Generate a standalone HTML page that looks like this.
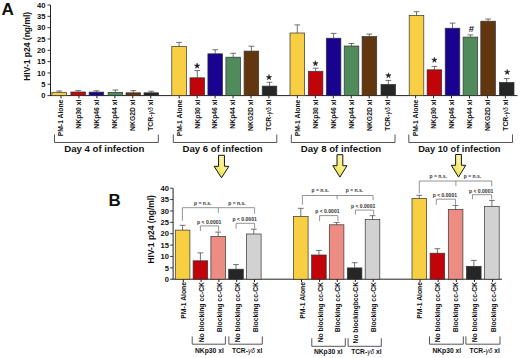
<!DOCTYPE html>
<html><head><meta charset="utf-8"><style>
html,body{margin:0;padding:0;background:#fff;}
svg{display:block;}
</style></head><body>
<svg width="520" height="358" viewBox="0 0 520 358">
<rect width="520" height="358" fill="#fff"/>
<text x="1.60" y="15.00" text-anchor="start" style="font-family:'Liberation Sans',sans-serif;font-weight:bold;font-size:17.2px" fill="#111">A</text>
<line x1="50.5" y1="5" x2="50.5" y2="95.6" stroke="#222" stroke-width="1"/>
<line x1="47.5" y1="95.60" x2="50.5" y2="95.60" stroke="#222" stroke-width="0.9"/>
<text x="45.50" y="98.30" text-anchor="end" style="font-family:'Liberation Sans',sans-serif;font-weight:bold;font-size:7.6px" fill="#111">0</text>
<line x1="47.5" y1="84.27" x2="50.5" y2="84.27" stroke="#222" stroke-width="0.9"/>
<text x="45.50" y="86.97" text-anchor="end" style="font-family:'Liberation Sans',sans-serif;font-weight:bold;font-size:7.6px" fill="#111">5</text>
<line x1="47.5" y1="72.95" x2="50.5" y2="72.95" stroke="#222" stroke-width="0.9"/>
<text x="45.50" y="75.65" text-anchor="end" style="font-family:'Liberation Sans',sans-serif;font-weight:bold;font-size:7.6px" fill="#111">10</text>
<line x1="47.5" y1="61.62" x2="50.5" y2="61.62" stroke="#222" stroke-width="0.9"/>
<text x="45.50" y="64.32" text-anchor="end" style="font-family:'Liberation Sans',sans-serif;font-weight:bold;font-size:7.6px" fill="#111">15</text>
<line x1="47.5" y1="50.30" x2="50.5" y2="50.30" stroke="#222" stroke-width="0.9"/>
<text x="45.50" y="53.00" text-anchor="end" style="font-family:'Liberation Sans',sans-serif;font-weight:bold;font-size:7.6px" fill="#111">20</text>
<line x1="47.5" y1="38.97" x2="50.5" y2="38.97" stroke="#222" stroke-width="0.9"/>
<text x="45.50" y="41.67" text-anchor="end" style="font-family:'Liberation Sans',sans-serif;font-weight:bold;font-size:7.6px" fill="#111">25</text>
<line x1="47.5" y1="27.65" x2="50.5" y2="27.65" stroke="#222" stroke-width="0.9"/>
<text x="45.50" y="30.35" text-anchor="end" style="font-family:'Liberation Sans',sans-serif;font-weight:bold;font-size:7.6px" fill="#111">30</text>
<line x1="47.5" y1="16.32" x2="50.5" y2="16.32" stroke="#222" stroke-width="0.9"/>
<text x="45.50" y="19.02" text-anchor="end" style="font-family:'Liberation Sans',sans-serif;font-weight:bold;font-size:7.6px" fill="#111">35</text>
<line x1="47.5" y1="5.00" x2="50.5" y2="5.00" stroke="#222" stroke-width="0.9"/>
<text x="45.50" y="7.70" text-anchor="end" style="font-family:'Liberation Sans',sans-serif;font-weight:bold;font-size:7.6px" fill="#111">40</text>
<text x="30.5" y="46.3" transform="rotate(-90 30.5 46.3)" text-anchor="middle" style="font-family:'Liberation Sans',sans-serif;font-weight:bold;font-size:8.5px" fill="#111" textLength="69" lengthAdjust="spacingAndGlyphs">HIV-1 p24 (ng/ml)</text>
<line x1="50.0" y1="95.6" x2="517.5" y2="95.6" stroke="#222" stroke-width="1"/>
<rect x="51.90" y="92.30" width="14.6" height="3.30" fill="#f8cf42" stroke="#333" stroke-width="0.7"/>
<line x1="59.20" y1="92.30" x2="59.20" y2="91.00" stroke="#444" stroke-width="0.75"/>
<line x1="56.30" y1="91.00" x2="62.10" y2="91.00" stroke="#444" stroke-width="0.75"/>
<line x1="61.00" y1="95.6" x2="61.00" y2="98.39999999999999" stroke="#222" stroke-width="1"/>
<text x="63.40" y="99.60" transform="rotate(-90 63.40 99.60)" text-anchor="end" style="font-family:'Liberation Sans',sans-serif;font-weight:bold;font-size:7.4px" fill="#111" textLength="36.71" lengthAdjust="spacingAndGlyphs">PM-1 Alone</text>
<rect x="70.90" y="92.00" width="14.6" height="3.60" fill="#c0040a" stroke="#333" stroke-width="0.7"/>
<line x1="78.20" y1="92.00" x2="78.20" y2="90.60" stroke="#444" stroke-width="0.75"/>
<line x1="75.30" y1="90.60" x2="81.10" y2="90.60" stroke="#444" stroke-width="0.75"/>
<line x1="78.95" y1="95.6" x2="78.95" y2="98.39999999999999" stroke="#222" stroke-width="1"/>
<text x="81.35" y="99.60" transform="rotate(-90 81.35 99.60)" text-anchor="end" style="font-family:'Liberation Sans',sans-serif;font-weight:bold;font-size:7.4px" fill="#111" textLength="29.06" lengthAdjust="spacingAndGlyphs">NKp30 xl</text>
<rect x="89.10" y="92.10" width="14.6" height="3.50" fill="#19028f" stroke="#333" stroke-width="0.7"/>
<line x1="96.40" y1="92.10" x2="96.40" y2="90.80" stroke="#444" stroke-width="0.75"/>
<line x1="93.50" y1="90.80" x2="99.30" y2="90.80" stroke="#444" stroke-width="0.75"/>
<line x1="96.90" y1="95.6" x2="96.90" y2="98.39999999999999" stroke="#222" stroke-width="1"/>
<text x="99.30" y="99.60" transform="rotate(-90 99.30 99.60)" text-anchor="end" style="font-family:'Liberation Sans',sans-serif;font-weight:bold;font-size:7.4px" fill="#111" textLength="29.06" lengthAdjust="spacingAndGlyphs">NKp46 xl</text>
<rect x="108.10" y="92.40" width="14.6" height="3.20" fill="#508b5b" stroke="#333" stroke-width="0.7"/>
<line x1="115.40" y1="92.40" x2="115.40" y2="90.00" stroke="#444" stroke-width="0.75"/>
<line x1="112.50" y1="90.00" x2="118.30" y2="90.00" stroke="#444" stroke-width="0.75"/>
<line x1="114.85" y1="95.6" x2="114.85" y2="98.39999999999999" stroke="#222" stroke-width="1"/>
<text x="117.25" y="99.60" transform="rotate(-90 117.25 99.60)" text-anchor="end" style="font-family:'Liberation Sans',sans-serif;font-weight:bold;font-size:7.4px" fill="#111" textLength="29.06" lengthAdjust="spacingAndGlyphs">NKp44 xl</text>
<rect x="126.00" y="92.80" width="14.6" height="2.80" fill="#62360f" stroke="#333" stroke-width="0.7"/>
<line x1="133.30" y1="92.80" x2="133.30" y2="90.60" stroke="#444" stroke-width="0.75"/>
<line x1="130.40" y1="90.60" x2="136.20" y2="90.60" stroke="#444" stroke-width="0.75"/>
<line x1="132.80" y1="95.6" x2="132.80" y2="98.39999999999999" stroke="#222" stroke-width="1"/>
<text x="135.20" y="99.60" transform="rotate(-90 135.20 99.60)" text-anchor="end" style="font-family:'Liberation Sans',sans-serif;font-weight:bold;font-size:7.4px" fill="#111" textLength="31.32" lengthAdjust="spacingAndGlyphs">NKG2D xl</text>
<rect x="144.00" y="92.80" width="14.6" height="2.80" fill="#262626" stroke="#333" stroke-width="0.7"/>
<line x1="151.30" y1="92.80" x2="151.30" y2="91.25" stroke="#444" stroke-width="0.75"/>
<line x1="148.40" y1="91.25" x2="154.20" y2="91.25" stroke="#444" stroke-width="0.75"/>
<line x1="150.75" y1="95.6" x2="150.75" y2="98.39999999999999" stroke="#222" stroke-width="1"/>
<text x="153.15" y="99.60" transform="rotate(-90 153.15 99.60)" text-anchor="end" style="font-family:'Liberation Sans',sans-serif;font-weight:bold;font-size:7.4px" fill="#111" textLength="31.2" lengthAdjust="spacingAndGlyphs">TCR-<tspan style="font-weight:normal;font-style:italic">γδ</tspan> xl</text>
<rect x="171.80" y="46.50" width="14.6" height="49.10" fill="#f8cf42" stroke="#333" stroke-width="0.7"/>
<line x1="179.10" y1="46.50" x2="179.10" y2="42.40" stroke="#444" stroke-width="0.75"/>
<line x1="176.20" y1="42.40" x2="182.00" y2="42.40" stroke="#444" stroke-width="0.75"/>
<line x1="179.20" y1="95.6" x2="179.20" y2="98.39999999999999" stroke="#222" stroke-width="1"/>
<text x="181.60" y="99.60" transform="rotate(-90 181.60 99.60)" text-anchor="end" style="font-family:'Liberation Sans',sans-serif;font-weight:bold;font-size:7.4px" fill="#111" textLength="36.71" lengthAdjust="spacingAndGlyphs">PM-1 Alone</text>
<rect x="190.00" y="77.80" width="14.6" height="17.80" fill="#c0040a" stroke="#333" stroke-width="0.7"/>
<line x1="197.30" y1="77.80" x2="197.30" y2="70.60" stroke="#444" stroke-width="0.75"/>
<line x1="194.40" y1="70.60" x2="200.20" y2="70.60" stroke="#444" stroke-width="0.75"/>
<line x1="197.15" y1="95.6" x2="197.15" y2="98.39999999999999" stroke="#222" stroke-width="1"/>
<text x="199.55" y="99.60" transform="rotate(-90 199.55 99.60)" text-anchor="end" style="font-family:'Liberation Sans',sans-serif;font-weight:bold;font-size:7.4px" fill="#111" textLength="29.06" lengthAdjust="spacingAndGlyphs">NKp30 xl</text>
<rect x="207.90" y="53.80" width="14.6" height="41.80" fill="#19028f" stroke="#333" stroke-width="0.7"/>
<line x1="215.20" y1="53.80" x2="215.20" y2="49.75" stroke="#444" stroke-width="0.75"/>
<line x1="212.30" y1="49.75" x2="218.10" y2="49.75" stroke="#444" stroke-width="0.75"/>
<line x1="215.10" y1="95.6" x2="215.10" y2="98.39999999999999" stroke="#222" stroke-width="1"/>
<text x="217.50" y="99.60" transform="rotate(-90 217.50 99.60)" text-anchor="end" style="font-family:'Liberation Sans',sans-serif;font-weight:bold;font-size:7.4px" fill="#111" textLength="29.06" lengthAdjust="spacingAndGlyphs">NKp46 xl</text>
<rect x="225.90" y="57.20" width="14.6" height="38.40" fill="#508b5b" stroke="#333" stroke-width="0.7"/>
<line x1="233.20" y1="57.20" x2="233.20" y2="53.30" stroke="#444" stroke-width="0.75"/>
<line x1="230.30" y1="53.30" x2="236.10" y2="53.30" stroke="#444" stroke-width="0.75"/>
<line x1="233.05" y1="95.6" x2="233.05" y2="98.39999999999999" stroke="#222" stroke-width="1"/>
<text x="235.45" y="99.60" transform="rotate(-90 235.45 99.60)" text-anchor="end" style="font-family:'Liberation Sans',sans-serif;font-weight:bold;font-size:7.4px" fill="#111" textLength="29.06" lengthAdjust="spacingAndGlyphs">NKp44 xl</text>
<rect x="244.10" y="51.10" width="14.6" height="44.50" fill="#62360f" stroke="#333" stroke-width="0.7"/>
<line x1="251.40" y1="51.10" x2="251.40" y2="46.20" stroke="#444" stroke-width="0.75"/>
<line x1="248.50" y1="46.20" x2="254.30" y2="46.20" stroke="#444" stroke-width="0.75"/>
<line x1="251.00" y1="95.6" x2="251.00" y2="98.39999999999999" stroke="#222" stroke-width="1"/>
<text x="253.40" y="99.60" transform="rotate(-90 253.40 99.60)" text-anchor="end" style="font-family:'Liberation Sans',sans-serif;font-weight:bold;font-size:7.4px" fill="#111" textLength="31.32" lengthAdjust="spacingAndGlyphs">NKG2D xl</text>
<rect x="262.20" y="86.10" width="14.6" height="9.50" fill="#262626" stroke="#333" stroke-width="0.7"/>
<line x1="269.50" y1="86.10" x2="269.50" y2="82.25" stroke="#444" stroke-width="0.75"/>
<line x1="266.60" y1="82.25" x2="272.40" y2="82.25" stroke="#444" stroke-width="0.75"/>
<line x1="268.95" y1="95.6" x2="268.95" y2="98.39999999999999" stroke="#222" stroke-width="1"/>
<text x="271.35" y="99.60" transform="rotate(-90 271.35 99.60)" text-anchor="end" style="font-family:'Liberation Sans',sans-serif;font-weight:bold;font-size:7.4px" fill="#111" textLength="31.2" lengthAdjust="spacingAndGlyphs">TCR-<tspan style="font-weight:normal;font-style:italic">γδ</tspan> xl</text>
<rect x="290.00" y="33.00" width="14.6" height="62.60" fill="#f8cf42" stroke="#333" stroke-width="0.7"/>
<line x1="297.30" y1="33.00" x2="297.30" y2="24.90" stroke="#444" stroke-width="0.75"/>
<line x1="294.40" y1="24.90" x2="300.20" y2="24.90" stroke="#444" stroke-width="0.75"/>
<line x1="297.40" y1="95.6" x2="297.40" y2="98.39999999999999" stroke="#222" stroke-width="1"/>
<text x="299.80" y="99.60" transform="rotate(-90 299.80 99.60)" text-anchor="end" style="font-family:'Liberation Sans',sans-serif;font-weight:bold;font-size:7.4px" fill="#111" textLength="36.71" lengthAdjust="spacingAndGlyphs">PM-1 Alone</text>
<rect x="308.30" y="71.30" width="14.6" height="24.30" fill="#c0040a" stroke="#333" stroke-width="0.7"/>
<line x1="315.60" y1="71.30" x2="315.60" y2="68.20" stroke="#444" stroke-width="0.75"/>
<line x1="312.70" y1="68.20" x2="318.50" y2="68.20" stroke="#444" stroke-width="0.75"/>
<line x1="315.35" y1="95.6" x2="315.35" y2="98.39999999999999" stroke="#222" stroke-width="1"/>
<text x="317.75" y="99.60" transform="rotate(-90 317.75 99.60)" text-anchor="end" style="font-family:'Liberation Sans',sans-serif;font-weight:bold;font-size:7.4px" fill="#111" textLength="29.06" lengthAdjust="spacingAndGlyphs">NKp30 xl</text>
<rect x="326.30" y="38.20" width="14.6" height="57.40" fill="#19028f" stroke="#333" stroke-width="0.7"/>
<line x1="333.60" y1="38.20" x2="333.60" y2="33.40" stroke="#444" stroke-width="0.75"/>
<line x1="330.70" y1="33.40" x2="336.50" y2="33.40" stroke="#444" stroke-width="0.75"/>
<line x1="333.30" y1="95.6" x2="333.30" y2="98.39999999999999" stroke="#222" stroke-width="1"/>
<text x="335.70" y="99.60" transform="rotate(-90 335.70 99.60)" text-anchor="end" style="font-family:'Liberation Sans',sans-serif;font-weight:bold;font-size:7.4px" fill="#111" textLength="29.06" lengthAdjust="spacingAndGlyphs">NKp46 xl</text>
<rect x="344.20" y="46.00" width="14.6" height="49.60" fill="#508b5b" stroke="#333" stroke-width="0.7"/>
<line x1="351.50" y1="46.00" x2="351.50" y2="43.50" stroke="#444" stroke-width="0.75"/>
<line x1="348.60" y1="43.50" x2="354.40" y2="43.50" stroke="#444" stroke-width="0.75"/>
<line x1="351.25" y1="95.6" x2="351.25" y2="98.39999999999999" stroke="#222" stroke-width="1"/>
<text x="353.65" y="99.60" transform="rotate(-90 353.65 99.60)" text-anchor="end" style="font-family:'Liberation Sans',sans-serif;font-weight:bold;font-size:7.4px" fill="#111" textLength="29.06" lengthAdjust="spacingAndGlyphs">NKp44 xl</text>
<rect x="362.10" y="36.60" width="14.6" height="59.00" fill="#62360f" stroke="#333" stroke-width="0.7"/>
<line x1="369.40" y1="36.60" x2="369.40" y2="34.10" stroke="#444" stroke-width="0.75"/>
<line x1="366.50" y1="34.10" x2="372.30" y2="34.10" stroke="#444" stroke-width="0.75"/>
<line x1="369.20" y1="95.6" x2="369.20" y2="98.39999999999999" stroke="#222" stroke-width="1"/>
<text x="371.60" y="99.60" transform="rotate(-90 371.60 99.60)" text-anchor="end" style="font-family:'Liberation Sans',sans-serif;font-weight:bold;font-size:7.4px" fill="#111" textLength="31.32" lengthAdjust="spacingAndGlyphs">NKG2D xl</text>
<rect x="381.00" y="84.40" width="14.6" height="11.20" fill="#262626" stroke="#333" stroke-width="0.7"/>
<line x1="388.30" y1="84.40" x2="388.30" y2="80.40" stroke="#444" stroke-width="0.75"/>
<line x1="385.40" y1="80.40" x2="391.20" y2="80.40" stroke="#444" stroke-width="0.75"/>
<line x1="387.15" y1="95.6" x2="387.15" y2="98.39999999999999" stroke="#222" stroke-width="1"/>
<text x="389.55" y="99.60" transform="rotate(-90 389.55 99.60)" text-anchor="end" style="font-family:'Liberation Sans',sans-serif;font-weight:bold;font-size:7.4px" fill="#111" textLength="31.2" lengthAdjust="spacingAndGlyphs">TCR-<tspan style="font-weight:normal;font-style:italic">γδ</tspan> xl</text>
<rect x="409.20" y="15.50" width="14.6" height="80.10" fill="#f8cf42" stroke="#333" stroke-width="0.7"/>
<line x1="416.50" y1="15.50" x2="416.50" y2="11.70" stroke="#444" stroke-width="0.75"/>
<line x1="413.60" y1="11.70" x2="419.40" y2="11.70" stroke="#444" stroke-width="0.75"/>
<line x1="415.60" y1="95.6" x2="415.60" y2="98.39999999999999" stroke="#222" stroke-width="1"/>
<text x="418.00" y="99.60" transform="rotate(-90 418.00 99.60)" text-anchor="end" style="font-family:'Liberation Sans',sans-serif;font-weight:bold;font-size:7.4px" fill="#111" textLength="36.71" lengthAdjust="spacingAndGlyphs">PM-1 Alone</text>
<rect x="427.10" y="69.80" width="14.6" height="25.80" fill="#c0040a" stroke="#333" stroke-width="0.7"/>
<line x1="434.40" y1="69.80" x2="434.40" y2="66.40" stroke="#444" stroke-width="0.75"/>
<line x1="431.50" y1="66.40" x2="437.30" y2="66.40" stroke="#444" stroke-width="0.75"/>
<line x1="433.55" y1="95.6" x2="433.55" y2="98.39999999999999" stroke="#222" stroke-width="1"/>
<text x="435.95" y="99.60" transform="rotate(-90 435.95 99.60)" text-anchor="end" style="font-family:'Liberation Sans',sans-serif;font-weight:bold;font-size:7.4px" fill="#111" textLength="29.06" lengthAdjust="spacingAndGlyphs">NKp30 xl</text>
<rect x="445.20" y="28.20" width="14.6" height="67.40" fill="#19028f" stroke="#333" stroke-width="0.7"/>
<line x1="452.50" y1="28.20" x2="452.50" y2="23.10" stroke="#444" stroke-width="0.75"/>
<line x1="449.60" y1="23.10" x2="455.40" y2="23.10" stroke="#444" stroke-width="0.75"/>
<line x1="451.50" y1="95.6" x2="451.50" y2="98.39999999999999" stroke="#222" stroke-width="1"/>
<text x="453.90" y="99.60" transform="rotate(-90 453.90 99.60)" text-anchor="end" style="font-family:'Liberation Sans',sans-serif;font-weight:bold;font-size:7.4px" fill="#111" textLength="29.06" lengthAdjust="spacingAndGlyphs">NKp46 xl</text>
<rect x="463.10" y="37.10" width="14.6" height="58.50" fill="#508b5b" stroke="#333" stroke-width="0.7"/>
<line x1="470.40" y1="37.10" x2="470.40" y2="34.90" stroke="#444" stroke-width="0.75"/>
<line x1="467.50" y1="34.90" x2="473.30" y2="34.90" stroke="#444" stroke-width="0.75"/>
<line x1="469.45" y1="95.6" x2="469.45" y2="98.39999999999999" stroke="#222" stroke-width="1"/>
<text x="471.85" y="99.60" transform="rotate(-90 471.85 99.60)" text-anchor="end" style="font-family:'Liberation Sans',sans-serif;font-weight:bold;font-size:7.4px" fill="#111" textLength="29.06" lengthAdjust="spacingAndGlyphs">NKp44 xl</text>
<rect x="480.80" y="21.20" width="14.6" height="74.40" fill="#62360f" stroke="#333" stroke-width="0.7"/>
<line x1="488.10" y1="21.20" x2="488.10" y2="19.00" stroke="#444" stroke-width="0.75"/>
<line x1="485.20" y1="19.00" x2="491.00" y2="19.00" stroke="#444" stroke-width="0.75"/>
<line x1="487.40" y1="95.6" x2="487.40" y2="98.39999999999999" stroke="#222" stroke-width="1"/>
<text x="489.80" y="99.60" transform="rotate(-90 489.80 99.60)" text-anchor="end" style="font-family:'Liberation Sans',sans-serif;font-weight:bold;font-size:7.4px" fill="#111" textLength="31.32" lengthAdjust="spacingAndGlyphs">NKG2D xl</text>
<rect x="499.40" y="82.40" width="14.6" height="13.20" fill="#262626" stroke="#333" stroke-width="0.7"/>
<line x1="506.70" y1="82.40" x2="506.70" y2="78.60" stroke="#444" stroke-width="0.75"/>
<line x1="503.80" y1="78.60" x2="509.60" y2="78.60" stroke="#444" stroke-width="0.75"/>
<line x1="505.35" y1="95.6" x2="505.35" y2="98.39999999999999" stroke="#222" stroke-width="1"/>
<text x="507.75" y="99.60" transform="rotate(-90 507.75 99.60)" text-anchor="end" style="font-family:'Liberation Sans',sans-serif;font-weight:bold;font-size:7.4px" fill="#111" textLength="31.2" lengthAdjust="spacingAndGlyphs">TCR-<tspan style="font-weight:normal;font-style:italic">γδ</tspan> xl</text>
<polygon points="197.10,63.10 197.69,65.09 199.76,65.03 198.05,66.21 198.75,68.17 197.10,66.90 195.45,68.17 196.15,66.21 194.44,65.03 196.51,65.09" fill="#1a1a1a" stroke="#1a1a1a" stroke-width="0.5" stroke-linejoin="round"/>
<polygon points="269.00,74.60 269.59,76.59 271.66,76.53 269.95,77.71 270.65,79.67 269.00,78.40 267.35,79.67 268.05,77.71 266.34,76.53 268.41,76.59" fill="#1a1a1a" stroke="#1a1a1a" stroke-width="0.5" stroke-linejoin="round"/>
<polygon points="315.40,60.70 315.99,62.69 318.06,62.63 316.35,63.81 317.05,65.77 315.40,64.50 313.75,65.77 314.45,63.81 312.74,62.63 314.81,62.69" fill="#1a1a1a" stroke="#1a1a1a" stroke-width="0.5" stroke-linejoin="round"/>
<polygon points="388.40,72.80 388.99,74.79 391.06,74.73 389.35,75.91 390.05,77.87 388.40,76.60 386.75,77.87 387.45,75.91 385.74,74.73 387.81,74.79" fill="#1a1a1a" stroke="#1a1a1a" stroke-width="0.5" stroke-linejoin="round"/>
<polygon points="434.40,57.30 434.99,59.29 437.06,59.23 435.35,60.41 436.05,62.37 434.40,61.10 432.75,62.37 433.45,60.41 431.74,59.23 433.81,59.29" fill="#1a1a1a" stroke="#1a1a1a" stroke-width="0.5" stroke-linejoin="round"/>
<polygon points="507.20,69.40 507.79,71.39 509.86,71.33 508.15,72.51 508.85,74.47 507.20,73.20 505.55,74.47 506.25,72.51 504.54,71.33 506.61,71.39" fill="#1a1a1a" stroke="#1a1a1a" stroke-width="0.5" stroke-linejoin="round"/>
<text x="471.40" y="32.20" text-anchor="middle" style="font-family:'Liberation Sans',sans-serif;font-weight:bold;font-size:9.5px" fill="#111">#</text>
<path d="M54.5 134.5 V142.5 H158.3 V134.5" fill="none" stroke="#444" stroke-width="0.9"/>
<text x="104.30" y="152.10" text-anchor="middle" style="font-family:'Liberation Sans',sans-serif;font-weight:bold;font-size:9.5px" fill="#111" textLength="80.2" lengthAdjust="spacingAndGlyphs">Day 4 of infection</text>
<path d="M173.3 134.5 V142.5 H276.8 V134.5" fill="none" stroke="#444" stroke-width="0.9"/>
<text x="222.50" y="152.10" text-anchor="middle" style="font-family:'Liberation Sans',sans-serif;font-weight:bold;font-size:9.5px" fill="#111" textLength="80.0" lengthAdjust="spacingAndGlyphs">Day 6 of infection</text>
<path d="M291.3 134.5 V142.5 H395.0 V134.5" fill="none" stroke="#444" stroke-width="0.9"/>
<text x="341.00" y="152.10" text-anchor="middle" style="font-family:'Liberation Sans',sans-serif;font-weight:bold;font-size:9.5px" fill="#111" textLength="80.5" lengthAdjust="spacingAndGlyphs">Day 8 of infection</text>
<path d="M408.8 134.5 V142.5 H512.5 V134.5" fill="none" stroke="#444" stroke-width="0.9"/>
<text x="459.30" y="152.10" text-anchor="middle" style="font-family:'Liberation Sans',sans-serif;font-weight:bold;font-size:9.5px" fill="#111" textLength="82.3" lengthAdjust="spacingAndGlyphs">Day 10 of infection</text>
<defs><linearGradient id="ag" x1="0" x2="1" y1="1" y2="0"><stop offset="0" stop-color="#e4d62c"/><stop offset="0.5" stop-color="#f6ef80"/><stop offset="1" stop-color="#fcf9d0"/></linearGradient></defs>
<path d="M218.55 155.3 H224.45 V166.3 H228.90 L221.50 177.8 L214.10 166.3 H218.55 Z" fill="url(#ag)" stroke="#151515" stroke-width="1.0" stroke-linejoin="miter"/>
<path d="M337.00 154.7 H342.80 V165.7 H347.00 L339.90 177.1 L332.80 165.7 H337.00 Z" fill="url(#ag)" stroke="#151515" stroke-width="1.0" stroke-linejoin="miter"/>
<path d="M455.60 154.5 H461.40 V165.3 H465.75 L458.50 177.1 L451.25 165.3 H455.60 Z" fill="url(#ag)" stroke="#151515" stroke-width="1.0" stroke-linejoin="miter"/>
<text x="108.60" y="205.70" text-anchor="start" style="font-family:'Liberation Sans',sans-serif;font-weight:bold;font-size:16.9px" fill="#111">B</text>
<line x1="173.1" y1="188.2" x2="173.1" y2="279.2" stroke="#222" stroke-width="1"/>
<line x1="170.1" y1="279.20" x2="173.1" y2="279.20" stroke="#222" stroke-width="0.9"/>
<text x="168.90" y="281.90" text-anchor="end" style="font-family:'Liberation Sans',sans-serif;font-weight:bold;font-size:7.6px" fill="#111">0</text>
<line x1="170.1" y1="267.82" x2="173.1" y2="267.82" stroke="#222" stroke-width="0.9"/>
<text x="168.90" y="270.52" text-anchor="end" style="font-family:'Liberation Sans',sans-serif;font-weight:bold;font-size:7.6px" fill="#111">5</text>
<line x1="170.1" y1="256.45" x2="173.1" y2="256.45" stroke="#222" stroke-width="0.9"/>
<text x="168.90" y="259.15" text-anchor="end" style="font-family:'Liberation Sans',sans-serif;font-weight:bold;font-size:7.6px" fill="#111">10</text>
<line x1="170.1" y1="245.07" x2="173.1" y2="245.07" stroke="#222" stroke-width="0.9"/>
<text x="168.90" y="247.77" text-anchor="end" style="font-family:'Liberation Sans',sans-serif;font-weight:bold;font-size:7.6px" fill="#111">15</text>
<line x1="170.1" y1="233.70" x2="173.1" y2="233.70" stroke="#222" stroke-width="0.9"/>
<text x="168.90" y="236.40" text-anchor="end" style="font-family:'Liberation Sans',sans-serif;font-weight:bold;font-size:7.6px" fill="#111">20</text>
<line x1="170.1" y1="222.32" x2="173.1" y2="222.32" stroke="#222" stroke-width="0.9"/>
<text x="168.90" y="225.02" text-anchor="end" style="font-family:'Liberation Sans',sans-serif;font-weight:bold;font-size:7.6px" fill="#111">25</text>
<line x1="170.1" y1="210.95" x2="173.1" y2="210.95" stroke="#222" stroke-width="0.9"/>
<text x="168.90" y="213.65" text-anchor="end" style="font-family:'Liberation Sans',sans-serif;font-weight:bold;font-size:7.6px" fill="#111">30</text>
<line x1="170.1" y1="199.57" x2="173.1" y2="199.57" stroke="#222" stroke-width="0.9"/>
<text x="168.90" y="202.27" text-anchor="end" style="font-family:'Liberation Sans',sans-serif;font-weight:bold;font-size:7.6px" fill="#111">35</text>
<line x1="170.1" y1="188.20" x2="173.1" y2="188.20" stroke="#222" stroke-width="0.9"/>
<text x="168.90" y="190.90" text-anchor="end" style="font-family:'Liberation Sans',sans-serif;font-weight:bold;font-size:7.6px" fill="#111">40</text>
<text x="153.6" y="229.3" transform="rotate(-90 153.6 229.3)" text-anchor="middle" style="font-family:'Liberation Sans',sans-serif;font-weight:bold;font-size:8.5px" fill="#111" textLength="68.5" lengthAdjust="spacingAndGlyphs">HIV-1 p24 (ng/ml)</text>
<line x1="172.6" y1="279.2" x2="502" y2="279.2" stroke="#222" stroke-width="1"/>
<rect x="175.30" y="230.10" width="14.6" height="49.10" fill="#f8cf42" stroke="#333" stroke-width="0.7"/>
<line x1="182.60" y1="230.10" x2="182.60" y2="225.30" stroke="#444" stroke-width="0.75"/>
<line x1="179.70" y1="225.30" x2="185.50" y2="225.30" stroke="#444" stroke-width="0.75"/>
<line x1="183.30" y1="279.2" x2="183.30" y2="282.0" stroke="#222" stroke-width="1"/>
<text x="186.30" y="282.00" transform="rotate(-90 186.30 282.00)" text-anchor="end" style="font-family:'Liberation Sans',sans-serif;font-weight:bold;font-size:7.4px" fill="#111" textLength="36.71" lengthAdjust="spacingAndGlyphs">PM-1 Alone</text>
<rect x="193.10" y="260.80" width="14.6" height="18.40" fill="#c0040a" stroke="#333" stroke-width="0.7"/>
<line x1="200.40" y1="260.80" x2="200.40" y2="252.90" stroke="#444" stroke-width="0.75"/>
<line x1="197.50" y1="252.90" x2="203.30" y2="252.90" stroke="#444" stroke-width="0.75"/>
<line x1="201.10" y1="279.2" x2="201.10" y2="282.0" stroke="#222" stroke-width="1"/>
<text x="204.10" y="282.00" transform="rotate(-90 204.10 282.00)" text-anchor="end" style="font-family:'Liberation Sans',sans-serif;font-weight:bold;font-size:7.4px" fill="#111" textLength="60.35" lengthAdjust="spacingAndGlyphs">No blocking cc-CK</text>
<rect x="210.90" y="236.50" width="14.6" height="42.70" fill="#ec8c82" stroke="#333" stroke-width="0.7"/>
<line x1="218.20" y1="236.50" x2="218.20" y2="232.10" stroke="#444" stroke-width="0.75"/>
<line x1="215.30" y1="232.10" x2="221.10" y2="232.10" stroke="#444" stroke-width="0.75"/>
<line x1="218.90" y1="279.2" x2="218.90" y2="282.0" stroke="#222" stroke-width="1"/>
<text x="221.90" y="282.00" transform="rotate(-90 221.90 282.00)" text-anchor="end" style="font-family:'Liberation Sans',sans-serif;font-weight:bold;font-size:7.4px" fill="#111" textLength="50.18" lengthAdjust="spacingAndGlyphs">Blocking cc-CK</text>
<rect x="228.70" y="269.20" width="14.6" height="10.00" fill="#262626" stroke="#333" stroke-width="0.7"/>
<line x1="236.00" y1="269.20" x2="236.00" y2="264.60" stroke="#444" stroke-width="0.75"/>
<line x1="233.10" y1="264.60" x2="238.90" y2="264.60" stroke="#444" stroke-width="0.75"/>
<line x1="236.70" y1="279.2" x2="236.70" y2="282.0" stroke="#222" stroke-width="1"/>
<text x="239.70" y="282.00" transform="rotate(-90 239.70 282.00)" text-anchor="end" style="font-family:'Liberation Sans',sans-serif;font-weight:bold;font-size:7.4px" fill="#111" textLength="60.35" lengthAdjust="spacingAndGlyphs">No blocking cc-CK</text>
<rect x="246.50" y="234.00" width="14.6" height="45.20" fill="#d2d2d3" stroke="#333" stroke-width="0.7"/>
<line x1="253.80" y1="234.00" x2="253.80" y2="229.20" stroke="#444" stroke-width="0.75"/>
<line x1="250.90" y1="229.20" x2="256.70" y2="229.20" stroke="#444" stroke-width="0.75"/>
<line x1="254.50" y1="279.2" x2="254.50" y2="282.0" stroke="#222" stroke-width="1"/>
<text x="257.50" y="282.00" transform="rotate(-90 257.50 282.00)" text-anchor="end" style="font-family:'Liberation Sans',sans-serif;font-weight:bold;font-size:7.4px" fill="#111" textLength="50.18" lengthAdjust="spacingAndGlyphs">Blocking cc-CK</text>
<path d="M182.4 220.7 V207.7 H254.6 V213.7 M218.3 207.7 V212.9" fill="none" stroke="#7a7a7a" stroke-width="0.8"/>
<path d="M200.4 231.0 V225.9 H218.6 V231.0" fill="none" stroke="#7a7a7a" stroke-width="0.8"/>
<path d="M236.1 228.6 V223.3 H254.6 V228.6" fill="none" stroke="#7a7a7a" stroke-width="0.8"/>
<text x="202.80" y="204.50" text-anchor="middle" style="font-family:'Liberation Sans',sans-serif;font-weight:bold;font-size:5.2px" fill="#333" textLength="17.4" lengthAdjust="spacingAndGlyphs">p = n.s.</text>
<text x="236.90" y="204.50" text-anchor="middle" style="font-family:'Liberation Sans',sans-serif;font-weight:bold;font-size:5.2px" fill="#333" textLength="17.4" lengthAdjust="spacingAndGlyphs">p = n.s.</text>
<text x="209.20" y="223.70" text-anchor="middle" style="font-family:'Liberation Sans',sans-serif;font-weight:bold;font-size:5.2px" fill="#333" textLength="24.4" lengthAdjust="spacingAndGlyphs">p &lt; 0.0001</text>
<text x="244.65" y="221.10" text-anchor="middle" style="font-family:'Liberation Sans',sans-serif;font-weight:bold;font-size:5.2px" fill="#333" textLength="24.4" lengthAdjust="spacingAndGlyphs">p &lt; 0.0001</text>
<path d="M192.2 336.4 V344.2 H225.4 V336.4" fill="none" stroke="#444" stroke-width="0.9"/>
<path d="M228.9 336.4 V344.2 H262.3 V336.4" fill="none" stroke="#444" stroke-width="0.9"/>
<text x="209.40" y="352.60" text-anchor="middle" style="font-family:'Liberation Sans',sans-serif;font-weight:bold;font-size:7.3px" fill="#111" textLength="28.8" lengthAdjust="spacingAndGlyphs">NKp30 xl</text>
<text x="247.20" y="352.6" text-anchor="middle" style="font-family:'Liberation Sans',sans-serif;font-weight:bold;font-size:7.3px" fill="#111" textLength="30.5" lengthAdjust="spacingAndGlyphs">TCR-<tspan style="font-weight:normal;font-style:italic">γδ</tspan> xl</text>
<rect x="293.50" y="216.50" width="14.6" height="62.70" fill="#f8cf42" stroke="#333" stroke-width="0.7"/>
<line x1="300.80" y1="216.50" x2="300.80" y2="208.30" stroke="#444" stroke-width="0.75"/>
<line x1="297.90" y1="208.30" x2="303.70" y2="208.30" stroke="#444" stroke-width="0.75"/>
<line x1="301.50" y1="279.2" x2="301.50" y2="282.0" stroke="#222" stroke-width="1"/>
<text x="304.50" y="282.00" transform="rotate(-90 304.50 282.00)" text-anchor="end" style="font-family:'Liberation Sans',sans-serif;font-weight:bold;font-size:7.4px" fill="#111" textLength="36.71" lengthAdjust="spacingAndGlyphs">PM-1 Alone</text>
<rect x="311.60" y="255.00" width="14.6" height="24.20" fill="#c0040a" stroke="#333" stroke-width="0.7"/>
<line x1="318.90" y1="255.00" x2="318.90" y2="250.40" stroke="#444" stroke-width="0.75"/>
<line x1="316.00" y1="250.40" x2="321.80" y2="250.40" stroke="#444" stroke-width="0.75"/>
<line x1="319.60" y1="279.2" x2="319.60" y2="282.0" stroke="#222" stroke-width="1"/>
<text x="322.60" y="282.00" transform="rotate(-90 322.60 282.00)" text-anchor="end" style="font-family:'Liberation Sans',sans-serif;font-weight:bold;font-size:7.4px" fill="#111" textLength="60.35" lengthAdjust="spacingAndGlyphs">No blocking cc-CK</text>
<rect x="329.30" y="224.80" width="14.6" height="54.40" fill="#ec8c82" stroke="#333" stroke-width="0.7"/>
<line x1="336.60" y1="224.80" x2="336.60" y2="222.40" stroke="#444" stroke-width="0.75"/>
<line x1="333.70" y1="222.40" x2="339.50" y2="222.40" stroke="#444" stroke-width="0.75"/>
<line x1="337.30" y1="279.2" x2="337.30" y2="282.0" stroke="#222" stroke-width="1"/>
<text x="340.30" y="282.00" transform="rotate(-90 340.30 282.00)" text-anchor="end" style="font-family:'Liberation Sans',sans-serif;font-weight:bold;font-size:7.4px" fill="#111" textLength="50.18" lengthAdjust="spacingAndGlyphs">Blocking cc-CK</text>
<rect x="347.30" y="267.90" width="14.6" height="11.30" fill="#262626" stroke="#333" stroke-width="0.7"/>
<line x1="354.60" y1="267.90" x2="354.60" y2="262.70" stroke="#444" stroke-width="0.75"/>
<line x1="351.70" y1="262.70" x2="357.50" y2="262.70" stroke="#444" stroke-width="0.75"/>
<line x1="355.30" y1="279.2" x2="355.30" y2="282.0" stroke="#222" stroke-width="1"/>
<text x="358.30" y="282.00" transform="rotate(-90 358.30 282.00)" text-anchor="end" style="font-family:'Liberation Sans',sans-serif;font-weight:bold;font-size:7.4px" fill="#111" textLength="61.37" lengthAdjust="spacingAndGlyphs">No blockingbcc-CK</text>
<rect x="365.20" y="219.60" width="14.6" height="59.60" fill="#d2d2d3" stroke="#333" stroke-width="0.7"/>
<line x1="372.50" y1="219.60" x2="372.50" y2="215.70" stroke="#444" stroke-width="0.75"/>
<line x1="369.60" y1="215.70" x2="375.40" y2="215.70" stroke="#444" stroke-width="0.75"/>
<line x1="373.20" y1="279.2" x2="373.20" y2="282.0" stroke="#222" stroke-width="1"/>
<text x="376.20" y="282.00" transform="rotate(-90 376.20 282.00)" text-anchor="end" style="font-family:'Liberation Sans',sans-serif;font-weight:bold;font-size:7.4px" fill="#111" textLength="50.18" lengthAdjust="spacingAndGlyphs">Blocking cc-CK</text>
<path d="M302.4 204.7 V195.5 H373.1 V200.0 M337.1 195.5 V199.2" fill="none" stroke="#7a7a7a" stroke-width="0.8"/>
<path d="M319.6 221.1 V215.6 H337.9 V221.1" fill="none" stroke="#7a7a7a" stroke-width="0.8"/>
<path d="M355.4 214.7 V210.1 H373.7 V214.7" fill="none" stroke="#7a7a7a" stroke-width="0.8"/>
<text x="320.25" y="192.30" text-anchor="middle" style="font-family:'Liberation Sans',sans-serif;font-weight:bold;font-size:5.2px" fill="#333" textLength="17.4" lengthAdjust="spacingAndGlyphs">p = n.s.</text>
<text x="354.40" y="192.30" text-anchor="middle" style="font-family:'Liberation Sans',sans-serif;font-weight:bold;font-size:5.2px" fill="#333" textLength="17.4" lengthAdjust="spacingAndGlyphs">p = n.s.</text>
<text x="327.35" y="213.40" text-anchor="middle" style="font-family:'Liberation Sans',sans-serif;font-weight:bold;font-size:5.2px" fill="#333" textLength="24.4" lengthAdjust="spacingAndGlyphs">p &lt; 0.0001</text>
<text x="363.15" y="207.90" text-anchor="middle" style="font-family:'Liberation Sans',sans-serif;font-weight:bold;font-size:5.2px" fill="#333" textLength="24.4" lengthAdjust="spacingAndGlyphs">p &lt; 0.0001</text>
<path d="M311.8 338.2 V346.3 H345.3 V338.2" fill="none" stroke="#444" stroke-width="0.9"/>
<path d="M348.1 338.2 V346.3 H381.3 V338.2" fill="none" stroke="#444" stroke-width="0.9"/>
<text x="328.30" y="354.20" text-anchor="middle" style="font-family:'Liberation Sans',sans-serif;font-weight:bold;font-size:7.3px" fill="#111" textLength="28.8" lengthAdjust="spacingAndGlyphs">NKp30 xl</text>
<text x="366.45" y="354.2" text-anchor="middle" style="font-family:'Liberation Sans',sans-serif;font-weight:bold;font-size:7.3px" fill="#111" textLength="30.5" lengthAdjust="spacingAndGlyphs">TCR-<tspan style="font-weight:normal;font-style:italic">γδ</tspan> xl</text>
<rect x="412.00" y="198.40" width="14.6" height="80.80" fill="#f8cf42" stroke="#333" stroke-width="0.7"/>
<line x1="419.30" y1="198.40" x2="419.30" y2="195.30" stroke="#444" stroke-width="0.75"/>
<line x1="416.40" y1="195.30" x2="422.20" y2="195.30" stroke="#444" stroke-width="0.75"/>
<line x1="420.00" y1="279.2" x2="420.00" y2="282.0" stroke="#222" stroke-width="1"/>
<text x="422.00" y="282.00" transform="rotate(-90 422.00 282.00)" text-anchor="end" style="font-family:'Liberation Sans',sans-serif;font-weight:bold;font-size:7.4px" fill="#111" textLength="36.71" lengthAdjust="spacingAndGlyphs">PM-1 Alone</text>
<rect x="430.10" y="253.20" width="14.6" height="26.00" fill="#c0040a" stroke="#333" stroke-width="0.7"/>
<line x1="437.40" y1="253.20" x2="437.40" y2="248.70" stroke="#444" stroke-width="0.75"/>
<line x1="434.50" y1="248.70" x2="440.30" y2="248.70" stroke="#444" stroke-width="0.75"/>
<line x1="438.10" y1="279.2" x2="438.10" y2="282.0" stroke="#222" stroke-width="1"/>
<text x="440.10" y="282.00" transform="rotate(-90 440.10 282.00)" text-anchor="end" style="font-family:'Liberation Sans',sans-serif;font-weight:bold;font-size:7.4px" fill="#111" textLength="60.35" lengthAdjust="spacingAndGlyphs">No blocking cc-CK</text>
<rect x="448.30" y="209.60" width="14.6" height="69.60" fill="#ec8c82" stroke="#333" stroke-width="0.7"/>
<line x1="455.60" y1="209.60" x2="455.60" y2="205.40" stroke="#444" stroke-width="0.75"/>
<line x1="452.70" y1="205.40" x2="458.50" y2="205.40" stroke="#444" stroke-width="0.75"/>
<line x1="456.30" y1="279.2" x2="456.30" y2="282.0" stroke="#222" stroke-width="1"/>
<text x="458.30" y="282.00" transform="rotate(-90 458.30 282.00)" text-anchor="end" style="font-family:'Liberation Sans',sans-serif;font-weight:bold;font-size:7.4px" fill="#111" textLength="50.18" lengthAdjust="spacingAndGlyphs">Blocking cc-CK</text>
<rect x="466.50" y="266.30" width="14.6" height="12.90" fill="#262626" stroke="#333" stroke-width="0.7"/>
<line x1="473.80" y1="266.30" x2="473.80" y2="260.40" stroke="#444" stroke-width="0.75"/>
<line x1="470.90" y1="260.40" x2="476.70" y2="260.40" stroke="#444" stroke-width="0.75"/>
<line x1="474.50" y1="279.2" x2="474.50" y2="282.0" stroke="#222" stroke-width="1"/>
<text x="476.50" y="282.00" transform="rotate(-90 476.50 282.00)" text-anchor="end" style="font-family:'Liberation Sans',sans-serif;font-weight:bold;font-size:7.4px" fill="#111" textLength="60.35" lengthAdjust="spacingAndGlyphs">No blocking cc-CK</text>
<rect x="484.60" y="206.30" width="14.6" height="72.90" fill="#d2d2d3" stroke="#333" stroke-width="0.7"/>
<line x1="491.90" y1="206.30" x2="491.90" y2="200.40" stroke="#444" stroke-width="0.75"/>
<line x1="489.00" y1="200.40" x2="494.80" y2="200.40" stroke="#444" stroke-width="0.75"/>
<line x1="492.60" y1="279.2" x2="492.60" y2="282.0" stroke="#222" stroke-width="1"/>
<text x="495.60" y="282.00" transform="rotate(-90 495.60 282.00)" text-anchor="end" style="font-family:'Liberation Sans',sans-serif;font-weight:bold;font-size:7.4px" fill="#111" textLength="50.18" lengthAdjust="spacingAndGlyphs">Blocking cc-CK</text>
<path d="M419.3 193.4 V181.0 H491.7 V186.4 M455.9 181.0 V186.1" fill="none" stroke="#7a7a7a" stroke-width="0.8"/>
<path d="M436.3 204.7 V199.2 H455.5 V204.7" fill="none" stroke="#7a7a7a" stroke-width="0.8"/>
<path d="M472.5 199.2 V194.7 H491.7 V199.2" fill="none" stroke="#7a7a7a" stroke-width="0.8"/>
<text x="438.25" y="177.80" text-anchor="middle" style="font-family:'Liberation Sans',sans-serif;font-weight:bold;font-size:5.2px" fill="#333" textLength="17.4" lengthAdjust="spacingAndGlyphs">p = n.s.</text>
<text x="472.40" y="177.80" text-anchor="middle" style="font-family:'Liberation Sans',sans-serif;font-weight:bold;font-size:5.2px" fill="#333" textLength="17.4" lengthAdjust="spacingAndGlyphs">p = n.s.</text>
<text x="444.85" y="197.00" text-anchor="middle" style="font-family:'Liberation Sans',sans-serif;font-weight:bold;font-size:5.2px" fill="#333" textLength="24.4" lengthAdjust="spacingAndGlyphs">p &lt; 0.0001</text>
<text x="481.15" y="192.50" text-anchor="middle" style="font-family:'Liberation Sans',sans-serif;font-weight:bold;font-size:5.2px" fill="#333" textLength="24.4" lengthAdjust="spacingAndGlyphs">p &lt; 0.0001</text>
<path d="M429.5 336.4 V344.2 H463.3 V336.4" fill="none" stroke="#444" stroke-width="0.9"/>
<path d="M465.9 336.4 V344.2 H500.0 V336.4" fill="none" stroke="#444" stroke-width="0.9"/>
<text x="446.80" y="352.90" text-anchor="middle" style="font-family:'Liberation Sans',sans-serif;font-weight:bold;font-size:7.3px" fill="#111" textLength="28.8" lengthAdjust="spacingAndGlyphs">NKp30 xl</text>
<text x="484.65" y="352.9" text-anchor="middle" style="font-family:'Liberation Sans',sans-serif;font-weight:bold;font-size:7.3px" fill="#111" textLength="30.5" lengthAdjust="spacingAndGlyphs">TCR-<tspan style="font-weight:normal;font-style:italic">γδ</tspan> xl</text>
</svg>
</body></html>
